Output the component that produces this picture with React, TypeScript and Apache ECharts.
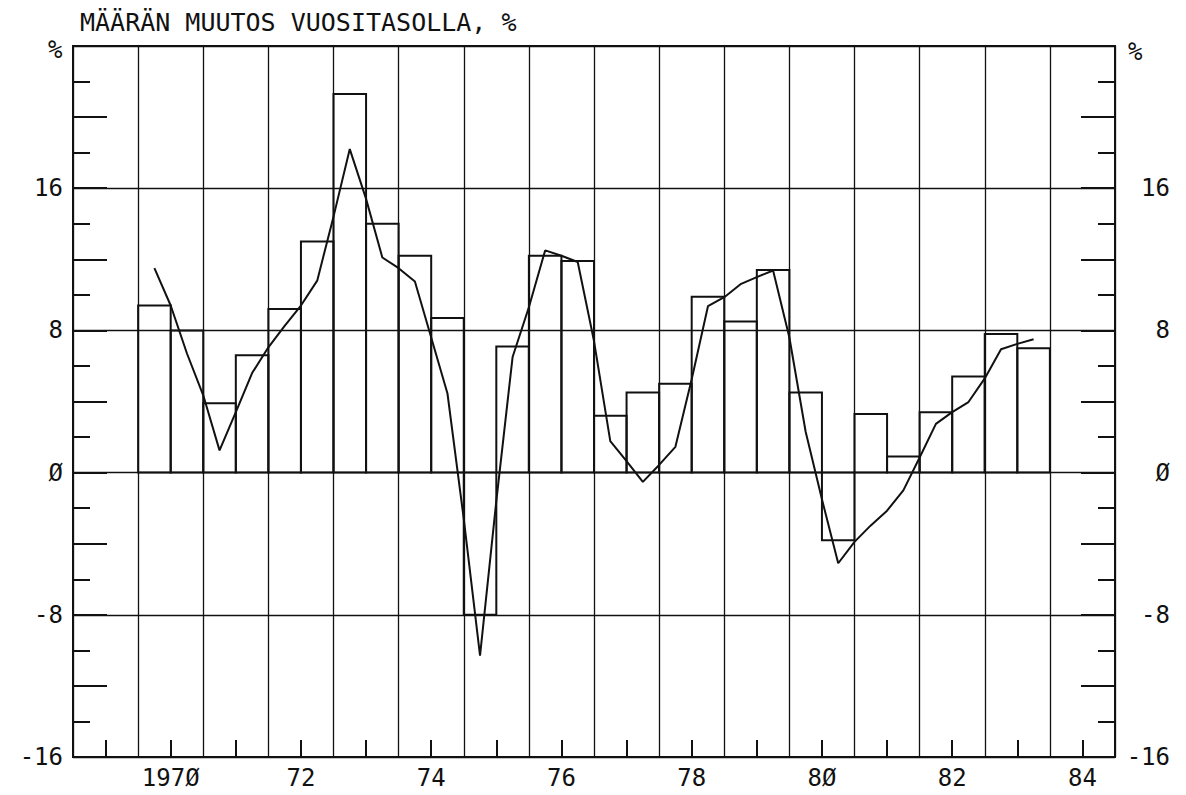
import React, { useEffect, useRef } from "react";
import * as echarts from "echarts";

// Half-year bars: 1970 H1 ... 1983 H2
const barYears = [1970, 1971, 1972, 1973, 1974, 1975, 1976, 1977, 1978, 1979, 1980, 1981, 1982, 1983];
const barValues = [
  9.4, 8.0, 3.9, 6.6, 9.2, 13.0, 21.3, 14.0, 12.2, 8.7, -8.0, 7.1, 12.2, 11.9,
  3.2, 4.5, 5.0, 9.9, 8.5, 11.4, 4.5, -3.8, 3.3, 0.9, 3.4, 5.4, 7.8, 7.0,
];

// Quarterly line, points at quarter ends from 1970 Q1 to 1983 Q3
const lineStartYear = 1970;
const lineValues = [
  11.5, 9.4, 6.7, 4.35,
  1.25, 3.4, 5.6, 7.05,
  8.25, 9.4, 10.8, 14.4,
  18.2, 15.4, 12.1, 11.5,
  10.75, 7.6, 4.45, -2.6,
  -10.3, -1.6, 6.5, 9.3,
  12.5, 12.2, 11.85, 7.4,
  1.77, 0.65, -0.52, 0.43,
  1.45, 5.25, 9.36, 9.87,
  10.6, 11.0, 11.37, 7.6,
  2.3, -1.5, -5.1, -3.9,
  -2.97, -2.14, -1.0, 0.85,
  2.74, 3.4, 3.97, 5.3,
  6.94, 7.24, 7.5,
];

const xCategories = ["1969", "1970", "1971", "1972", "1973", "1974", "1975", "1976", "1977", "1978", "1979", "1980", "1981", "1982", "1983", "1984"];
const xTickLabels = ["", "197Ø", "", "72", "", "74", "", "76", "", "78", "", "8Ø", "", "82", "", "84"];

const title = "MÄÄRÄN MUUTOS VUOSITASOLLA, %";
const FONT = '"DejaVu Sans Mono", "Liberation Mono", monospace';
const INK = "#111";

function yLabel(v: number) {
  if (v === 24) return "";
  if (v === 0) return "Ø";
  return String(v);
}

export default function App() {
  const ref = useRef<HTMLDivElement>(null);
  useEffect(() => {
    if (!ref.current) return;
    const chart = echarts.init(ref.current, undefined, { renderer: "svg" });

    const barData = barValues.map((v, i) => [barYears[Math.floor(i / 2)] + (i % 2) * 0.5, v]);
    const lineData = lineValues.map((v, i) => [lineStartYear + 0.25 * (i + 1), v]);

    const mainY = (position: "left" | "right") => ({
      type: "value",
      position,
      min: -16,
      max: 24,
      interval: 8,
      axisLine: { show: true, onZero: false, lineStyle: { color: INK, width: 2 } },
      axisTick: { show: false },
      splitLine: position === "left" ? { show: true, lineStyle: { color: INK, width: 1.3 } } : { show: false },
      axisLabel: {
        show: true,
        formatter: yLabel,
        color: INK,
        fontFamily: FONT,
        fontSize: 24,
        margin: position === "left" ? 10 : 55,
        align: "right",
      },
    });
    const tickY = (position: "left" | "right") => ({
      type: "value",
      position,
      min: -16,
      max: 24,
      interval: 4,
      axisLine: { show: false, onZero: false },
      axisTick: { show: true, inside: true, length: 34, lineStyle: { color: INK, width: 2 } },
      minorTick: { show: true, splitNumber: 2, length: 17, lineStyle: { color: INK, width: 2 } },
      splitLine: { show: false },
      axisLabel: { show: false },
    });

    chart.setOption({
      animation: false,
      backgroundColor: "#fff",
      grid: {
        left: 73,
        right: 71,
        top: 46,
        bottom: 38,
        show: true,
        borderColor: INK,
        borderWidth: 2,
        containLabel: false,
        outerBoundsMode: "none",
      },
      xAxis: [
        {
          type: "value",
          position: "bottom",
          min: 1969,
          max: 1985,
          interval: 1,
          axisLine: { show: true, onZero: false, lineStyle: { color: INK, width: 2 } },
          axisTick: { show: false },
          axisLabel: { show: false },
          splitLine: { show: true, lineStyle: { color: INK, width: 1.3 } },
        },
        {
          type: "category",
          position: "bottom",
          data: xCategories,
          boundaryGap: true,
          axisLine: { show: false, onZero: false },
          axisTick: { show: true, inside: true, length: 17, alignWithLabel: true, interval: 0, lineStyle: { color: INK, width: 2 } },
          axisLabel: {
            show: true,
            interval: 0,
            margin: 9,
            color: INK,
            fontFamily: FONT,
            fontSize: 24,
            formatter: (_v: string, idx: number) => xTickLabels[idx],
          },
          splitLine: { show: false },
        },
      ],
      yAxis: [mainY("left"), tickY("left"), mainY("right"), tickY("right")],
      graphic: [
        {
          type: "text",
          left: 80,
          top: 10,
          style: { text: title, fill: INK, fontFamily: FONT, fontSize: 25 },
        },
        {
          type: "text",
          left: 48,
          top: 38,
          style: { text: "%", fill: INK, fontFamily: FONT, fontSize: 24 },
        },
        {
          type: "text",
          left: 1128,
          top: 40,
          style: { text: "%", fill: INK, fontFamily: FONT, fontSize: 24 },
        },
      ],
      series: [
        {
          type: "custom",
          xAxisIndex: 0,
          yAxisIndex: 0,
          data: barData,
          renderItem: (_params: any, api: any) => {
            const x0 = api.value(0);
            const v = api.value(1);
            const p1 = api.coord([x0, v]);
            const p2 = api.coord([x0 + 0.5, 0]);
            return {
              type: "rect",
              shape: {
                x: Math.min(p1[0], p2[0]),
                y: Math.min(p1[1], p2[1]),
                width: Math.abs(p2[0] - p1[0]),
                height: Math.abs(p2[1] - p1[1]),
              },
              style: { fill: "none", stroke: INK, lineWidth: 2 },
            };
          },
        },
        {
          type: "line",
          xAxisIndex: 0,
          yAxisIndex: 0,
          data: lineData,
          symbol: "none",
          lineStyle: { color: INK, width: 2 },
        },
      ],
    });
    return () => chart.dispose();
  }, []);
  return (
    <div
      ref={ref}
      style={{ position: "fixed", left: 0, top: 0, width: 1186, height: 795, background: "#fff" }}
    />
  );
}
